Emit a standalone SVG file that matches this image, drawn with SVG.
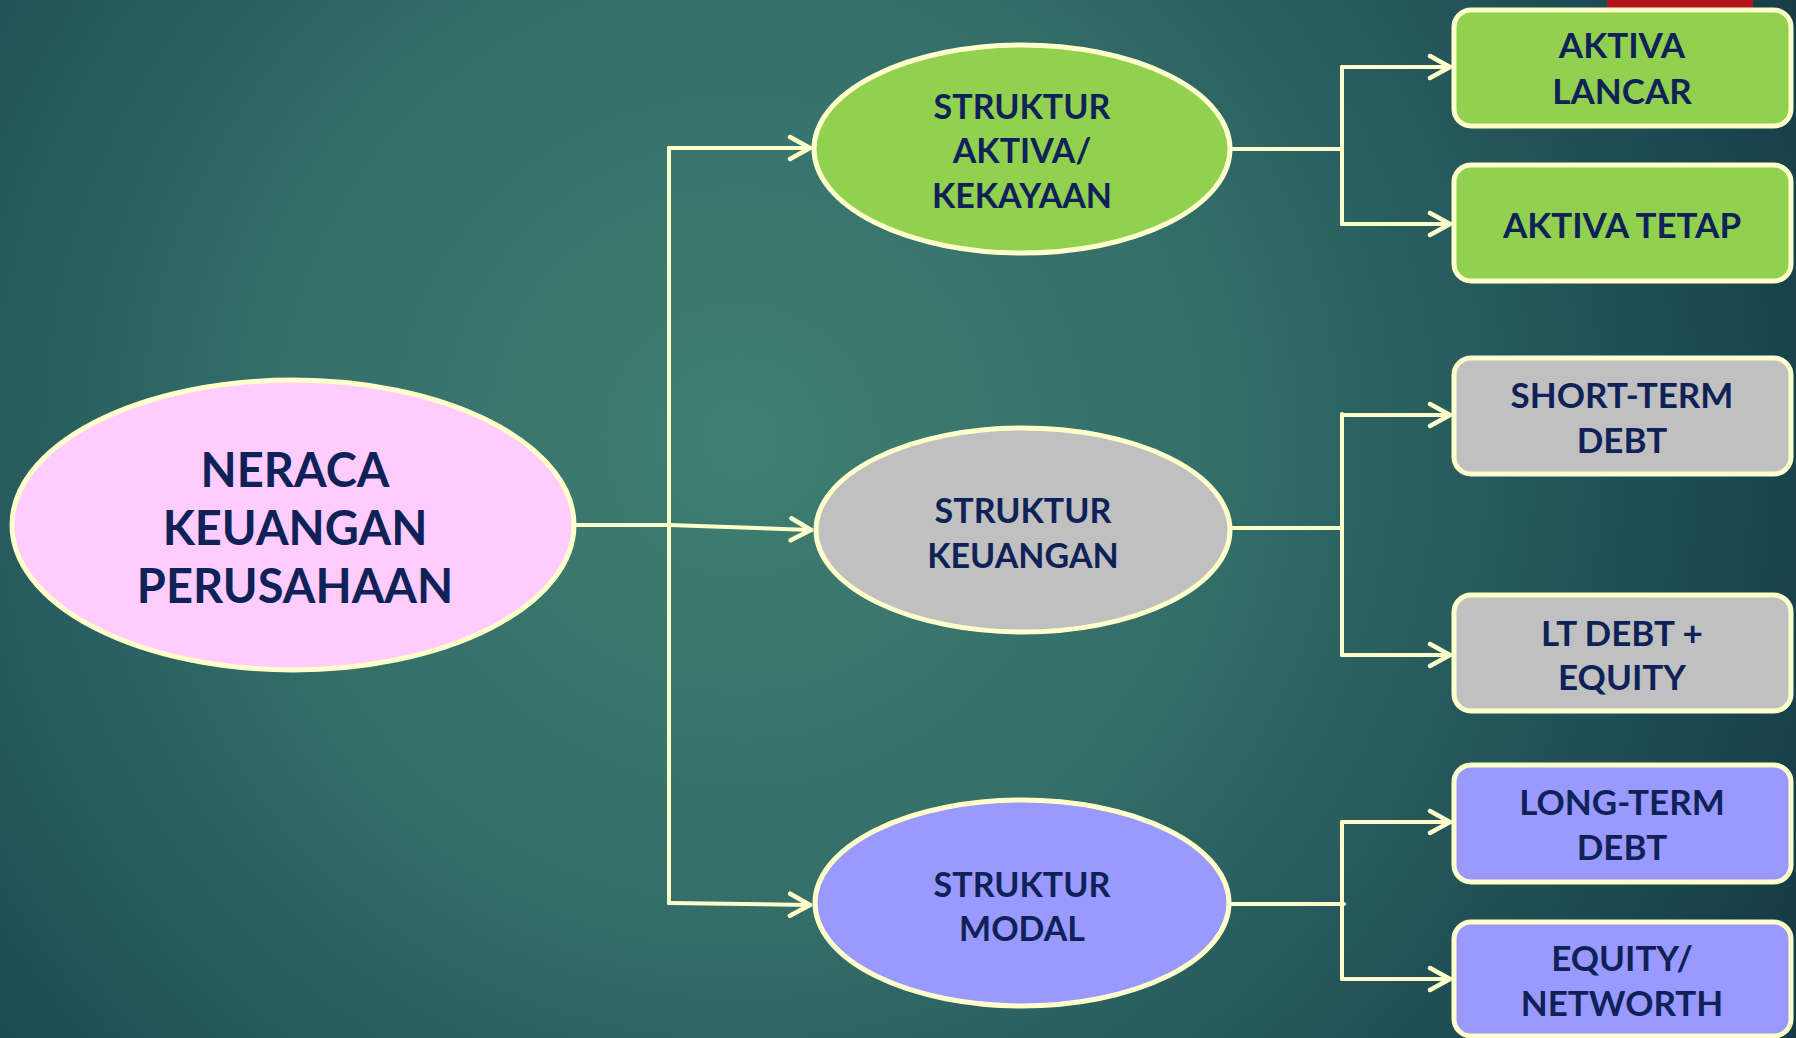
<svg xmlns="http://www.w3.org/2000/svg" width="1796" height="1038" viewBox="0 0 1796 1038">
<defs>
<radialGradient id="bg" gradientUnits="userSpaceOnUse" cx="740" cy="440" r="1150">
<stop offset="0" stop-color="#3F7E71"/>
<stop offset="0.4" stop-color="#346F69"/>
<stop offset="0.8" stop-color="#1E4D54"/>
<stop offset="1" stop-color="#163C47"/>
</radialGradient>
<marker id="arr" markerUnits="userSpaceOnUse" viewBox="0 0 26 28" refX="23" refY="14" markerWidth="26" markerHeight="28" orient="auto">
<path d="M3,3 L23,14 L3,25" fill="none" stroke="#FFFFCC" stroke-width="4.5" stroke-linecap="round" stroke-linejoin="round"/>
</marker>
<style>
.nd{stroke:#FFFFCC;stroke-width:5}
.t{font-family:Lato,"Open Sans","Liberation Sans",sans-serif;font-weight:bold;fill:#0F2258;text-anchor:middle}
.tb{font-size:47px}
.te{font-size:34px}
.tr{font-size:35px}
.c{fill:none;stroke:#FFFFCC;stroke-width:4;stroke-linecap:round}
</style>
</defs>
<rect width="1796" height="1038" fill="url(#bg)"/>
<rect x="1607" y="0" width="146" height="9" fill="#B3161A"/>
<g id="connectors">
<path class="c" d="M575,525 H669"/>
<path class="c" d="M669,148 V903"/>
<path class="c" d="M669,148 H810" marker-end="url(#arr)"/>
<path class="c" d="M669,525 L811,530" marker-end="url(#arr)"/>
<path class="c" d="M669,903 L810,905" marker-end="url(#arr)"/>
<path class="c" d="M1233,149 H1342"/>
<path class="c" d="M1342,67 V224"/>
<path class="c" d="M1342,67 H1450" marker-end="url(#arr)"/>
<path class="c" d="M1342,224 H1450" marker-end="url(#arr)"/>
<path class="c" d="M1232,528 H1342"/>
<path class="c" d="M1342,414 V655"/>
<path class="c" d="M1342,415 H1450" marker-end="url(#arr)"/>
<path class="c" d="M1342,655 H1450" marker-end="url(#arr)"/>
<path class="c" d="M1231,904 H1344"/>
<path class="c" d="M1342,822 V979"/>
<path class="c" d="M1342,822 H1450" marker-end="url(#arr)"/>
<path class="c" d="M1342,979 H1450" marker-end="url(#arr)"/>
</g>
<g id="neraca">
<ellipse class="nd" cx="293" cy="525" rx="281" ry="145" fill="#FFCCFF"/>
<text class="t tb" x="295" y="487">NERACA</text>
<text class="t tb" x="295" y="545">KEUANGAN</text>
<text class="t tb" x="295" y="603">PERUSAHAAN</text>
</g>
<g id="struktur-aktiva">
<ellipse class="nd" cx="1022" cy="149" rx="208" ry="104" fill="#92D050"/>
<text class="t te" x="1022" y="119">STRUKTUR</text>
<text class="t te" x="1022" y="163">AKTIVA/</text>
<text class="t te" x="1022" y="208">KEKAYAAN</text>
</g>
<g id="struktur-keuangan">
<ellipse class="nd" cx="1023" cy="530" rx="207" ry="102" fill="#C0C0C0"/>
<text class="t te" x="1023" y="523">STRUKTUR</text>
<text class="t te" x="1023" y="568">KEUANGAN</text>
</g>
<g id="struktur-modal">
<ellipse class="nd" cx="1022" cy="903" rx="207" ry="103" fill="#9999FF"/>
<text class="t te" x="1022" y="897">STRUKTUR</text>
<text class="t te" x="1022" y="941">MODAL</text>
</g>
<g id="aktiva-lancar">
<rect class="nd" x="1454" y="10" width="337" height="116" rx="17" fill="#92D050"/>
<text class="t tr" x="1622" y="58">AKTIVA</text>
<text class="t tr" x="1622" y="104">LANCAR</text>
</g>
<g id="aktiva-tetap">
<rect class="nd" x="1454" y="165" width="337" height="116" rx="17" fill="#92D050"/>
<text class="t tr" x="1622" y="238">AKTIVA TETAP</text>
</g>
<g id="short-term-debt">
<rect class="nd" x="1454" y="358" width="337" height="116" rx="17" fill="#C0C0C0"/>
<text class="t tr" x="1622" y="408">SHORT-TERM</text>
<text class="t tr" x="1622" y="453">DEBT</text>
</g>
<g id="lt-debt-equity">
<rect class="nd" x="1454" y="595" width="337" height="116" rx="17" fill="#C0C0C0"/>
<text class="t tr" x="1622" y="646">LT DEBT +</text>
<text class="t tr" x="1622" y="690">EQUITY</text>
</g>
<g id="long-term-debt">
<rect class="nd" x="1454" y="765" width="337" height="117" rx="17" fill="#9999FF"/>
<text class="t tr" x="1622" y="815">LONG-TERM</text>
<text class="t tr" x="1622" y="860">DEBT</text>
</g>
<g id="equity-networth">
<rect class="nd" x="1454" y="922" width="337" height="114" rx="17" fill="#9999FF"/>
<text class="t tr" x="1622" y="971">EQUITY/</text>
<text class="t tr" x="1622" y="1016">NETWORTH</text>
</g>
</svg>
